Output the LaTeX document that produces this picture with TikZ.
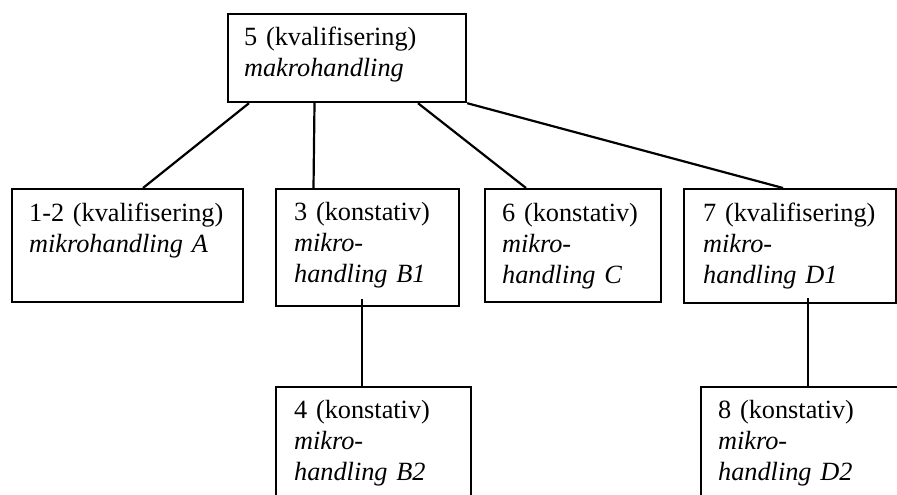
\documentclass[tikz,border=0pt]{standalone}
\usepackage{fontspec}
\setmainfont{Liberation Serif}
\newcommand\boxfont{\fontsize{26.3pt}{31pt}\selectfont}
\begin{document}
\begin{tikzpicture}[x=1pt,y=-1pt,
  bx/.style={draw, line width=2.2pt, anchor=north west, inner ysep=0pt,
    align=left, font=\boxfont, text height=31pt},
  conn/.style={line width=2.2pt}]
\clip (0,0) rectangle (897,495);
\fill[white] (0,0) rectangle (897,495);
% boxes
\node[bx, inner xsep=16pt, text width=206pt, text depth=57pt] (b5) at (227,13)
  {5 (kvalifisering)\\\textit{makrohandling}};
\node[bx, inner xsep=17pt, text width=197pt, text height=32pt, text depth=81pt] (bA) at (11,188)
  {1-2 (kvalifisering)\\\textit{mikrohandling A}};
\node[bx, inner xsep=18pt, text width=147pt, text depth=86pt] (bB1) at (275,188)
  {3 (konstativ)\\\textit{mikro-}\\\textit{handling B1}};
\node[bx, inner xsep=17pt, text width=142pt, text height=32pt, text depth=81pt] (bC) at (484,188)
  {6 (konstativ)\\\textit{mikro-}\\\textit{handling C}};
\node[bx, inner xsep=19pt, text width=174pt, text height=32pt, text depth=82pt] (bD1) at (683,188)
  {7 (kvalifisering)\\\textit{mikro-}\\\textit{handling D1}};
\node[bx, inner xsep=18pt, text width=159pt, text depth=103pt] (bB2) at (275,386)
  {4 (konstativ)\\\textit{mikro-}\\\textit{handling B2}};
\node[bx, inner xsep=17pt, text width=186pt, text depth=103pt] (bD2) at (700,386)
  {8 (konstativ)\\\textit{mikro-}\\\textit{handling D2}};
% connectors
\draw[conn] ([xshift=22pt]b5.south west) -- ([xshift=132pt]bA.north west);
\draw[conn] ([xshift=87.5pt]b5.south west) -- ([xshift=38.5pt]bB1.north west);
\draw[conn] ([xshift=191pt]b5.south west) -- ([xshift=42pt]bC.north west);
\draw[conn] (b5.south east) -- ([xshift=100pt]bD1.north west);
\draw[conn] ([xshift=87pt,yshift=8pt]bB1.south west) -- ([xshift=87pt]bB2.north west);
\draw[conn] ([xshift=125pt,yshift=6pt]bD1.south west) -- ([xshift=108pt]bD2.north west);
\end{tikzpicture}
\end{document}
